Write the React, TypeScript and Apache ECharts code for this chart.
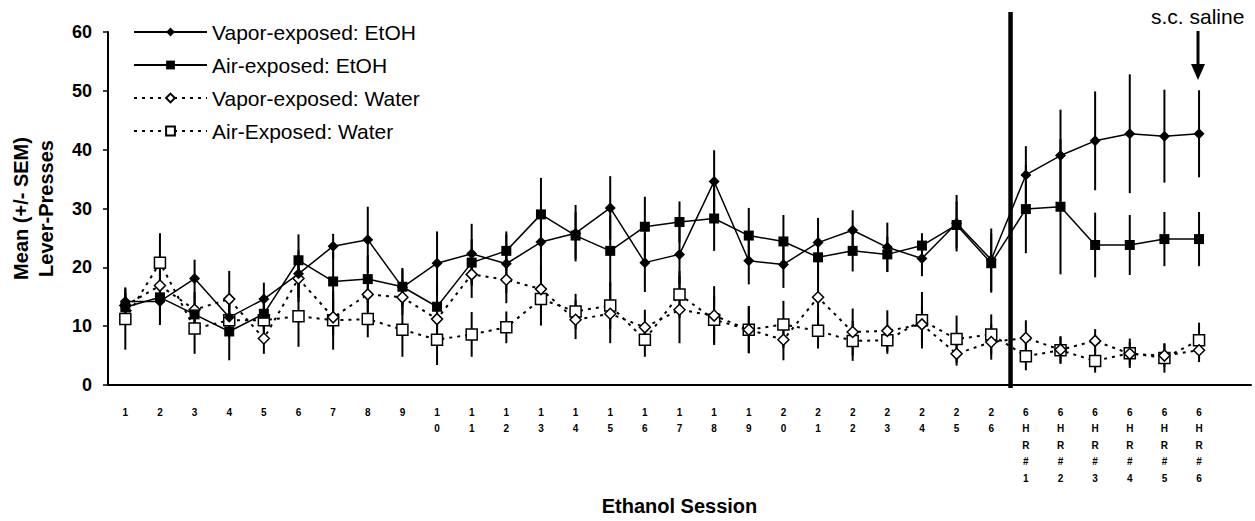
import React, { useEffect, useRef } from "react";
import * as echarts from "echarts";

const xLabels: string[] = [
  "1", "2", "3", "4", "5", "6", "7", "8", "9",
  "1\n0", "1\n1", "1\n2", "1\n3", "1\n4", "1\n5", "1\n6", "1\n7", "1\n8", "1\n9",
  "2\n0", "2\n1", "2\n2", "2\n3", "2\n4", "2\n5", "2\n6",
  "6\nH\nR\n#\n1", "6\nH\nR\n#\n2", "6\nH\nR\n#\n3", "6\nH\nR\n#\n4", "6\nH\nR\n#\n5", "6\nH\nR\n#\n6",
  "",
];

const seriesNames = ["Vapor-exposed: EtOH", "Air-exposed: EtOH", "Vapor-exposed: Water", "Air-Exposed: Water"];

const vaporEtoh = [14.2, 14.2, 18.1, 11.5, 14.6, 18.9, 23.6, 24.7, 16.6, 20.7, 22.3, 20.6, 24.3, 25.8, 30.1, 20.8, 22.2, 34.6, 21.1, 20.5, 24.2, 26.3, 23.4, 21.5, 27.5, 21.3, 35.7, 39.0, 41.5, 42.7, 42.3, 42.7];
const airEtoh = [13.2, 14.9, 12.0, 9.1, 12.1, 21.2, 17.6, 18.0, 16.7, 13.3, 20.8, 22.8, 29.0, 25.4, 22.8, 26.9, 27.7, 28.3, 25.4, 24.4, 21.7, 22.8, 22.2, 23.7, 27.2, 20.7, 29.9, 30.3, 23.8, 23.8, 24.8, 24.8];
const vaporWater = [13.5, 16.9, 12.8, 14.6, 7.9, 18.1, 11.5, 15.4, 14.9, 11.2, 18.8, 17.9, 16.3, 11.1, 12.1, 9.8, 12.8, 11.8, 9.4, 7.7, 14.9, 9.0, 9.2, 10.3, 5.3, 7.3, 8.0, 6.0, 7.5, 5.3, 5.0, 5.9];
const airWater = [11.2, 20.8, 9.6, 11.0, 11.0, 11.7, 11.0, 11.2, 9.4, 7.7, 8.6, 9.8, 14.6, 12.5, 13.5, 7.7, 15.4, 11.1, 9.4, 10.3, 9.2, 7.5, 7.6, 11.0, 7.8, 8.6, 4.9, 5.9, 4.1, 5.4, 4.6, 7.6];

const vaporEtohSem = [2.4, 4, 3.2, 3, 2.8, 4, 2.1, 5.6, 3.3, 5.4, 5.1, 5, 5, 4.8, 5.4, 5, 5, 5.3, 4, 4, 4.2, 3.4, 4.2, 3, 4.8, 5.3, 4.9, 7.8, 8.4, 10.1, 7.9, 7.4];
const airEtohSem = [2.5, 4.5, 3, 4.9, 3, 4.4, 5, 4, 3, 4, 4, 3.3, 6.2, 4, 6, 5.1, 3.5, 5.5, 4.7, 4.5, 4, 3.5, 3, 2.1, 4, 5, 7.5, 11.5, 5.5, 5.1, 4.6, 4.6];
const vaporWaterSem = [2, 3, 3, 4.8, 2.6, 4, 3, 3, 3, 3, 4, 4, 4, 3.3, 5, 3, 5.7, 5, 4, 3.5, 5, 4, 3.5, 3, 2, 3, 3, 2.3, 2, 2, 2, 2];
const airWaterSem = [5.2, 5, 4.3, 3, 3, 5.2, 5, 3.1, 4.6, 4.3, 3.8, 2.7, 4.5, 3, 4, 2.9, 4, 4, 4, 4, 3, 3.4, 2.3, 4.8, 4, 3.4, 2.4, 2.3, 2, 2.5, 2.5, 3];

const yTicks = { min: 0, max: 60, interval: 10 };
const dividerAfterIndex = 25; // between session 26 and 6HR#1

const FONT = "'Liberation Sans', Arial, sans-serif";

function errData(mean: number[], sem: number[]) {
  return mean.map((m, i) => [i, m - sem[i], m + sem[i]]);
}

const errRender = (_params: any, api: any) => {
  const p1 = api.coord([api.value(0), api.value(1)]);
  const p2 = api.coord([api.value(0), api.value(2)]);
  return {
    type: "line",
    shape: { x1: p1[0], y1: p1[1], x2: p2[0], y2: p2[1] },
    style: { stroke: "#000", lineWidth: 2 },
  };
};

export default function App() {
  const ref = useRef<HTMLDivElement>(null);
  useEffect(() => {
    if (!ref.current) return;
    const chart = echarts.init(ref.current, undefined, { renderer: "svg" });
    const lineBase = (name: string, data: number[], symbol: string, size: number, filled: boolean, dotted: boolean) => ({
      name,
      type: "line",
      data,
      symbol,
      symbolSize: size,
      z: 3,
      lineStyle: { color: "#000", width: dotted ? 2 : 1.5, type: dotted ? [3, 5] : "solid" },
      itemStyle: filled
        ? { color: "#000", borderColor: "#000", borderWidth: 0 }
        : { color: "#fff", borderColor: "#000", borderWidth: 1.5 },
      emphasis: { disabled: true },
    });
    const errSeries = (mean: number[], sem: number[]) => ({
      type: "custom",
      renderItem: errRender,
      data: errData(mean, sem),
      z: 1,
      silent: true,
      encode: { x: 0, y: [1, 2] },
    });
    chart.setOption({
      animation: false,
      grid: { left: 106, right: 4, top: 32, bottom: 132 },
      legend: {
        orient: "vertical",
        left: 133,
        top: 21,
        itemWidth: 73,
        itemHeight: 11,
        itemGap: 11,
        padding: 0,
        data: seriesNames,
        textStyle: { fontFamily: FONT, fontSize: 21, lineHeight: 22, color: "#000" },
      },
      xAxis: {
        type: "category",
        data: xLabels,
        boundaryGap: true,
        name: "Ethanol Session",
        nameLocation: "middle",
        nameGap: 111,
        nameTextStyle: { fontFamily: FONT, fontSize: 20, fontWeight: "bold", color: "#000" },
        axisLine: { lineStyle: { color: "#000", width: 2 } },
        axisTick: { show: false },
        axisLabel: {
          interval: 0,
          margin: 19,
          fontFamily: FONT,
          fontSize: 10,
          fontWeight: "bold",
          lineHeight: 16.5,
          color: "#000",
        },
        splitLine: { show: false },
      },
      yAxis: {
        type: "value",
        min: yTicks.min,
        max: yTicks.max,
        interval: yTicks.interval,
        name: "Mean (+/- SEM)\nLever-Presses",
        nameLocation: "middle",
        nameRotate: 90,
        nameGap: 50,
        nameTextStyle: { fontFamily: FONT, fontSize: 20, fontWeight: "bold", color: "#000", lineHeight: 25, align: "center" },
        axisLine: { show: true, lineStyle: { color: "#000", width: 2 } },
        axisTick: { show: true, length: 5, lineStyle: { color: "#000", width: 1.5 } },
        axisLabel: { margin: 16, fontFamily: FONT, fontSize: 18, fontWeight: "bold", color: "#000" },
        splitLine: { show: false },
      },
      series: [
        errSeries(vaporEtoh, vaporEtohSem),
        errSeries(airEtoh, airEtohSem),
        errSeries(vaporWater, vaporWaterSem),
        errSeries(airWater, airWaterSem),
        lineBase(seriesNames[3], airWater, "rect", 11, false, true),
        lineBase(seriesNames[2], vaporWater, "diamond", 11, false, true),
        lineBase(seriesNames[1], airEtoh, "rect", 10, true, false),
        lineBase(seriesNames[0], vaporEtoh, "diamond", 11, true, false),
        {
          type: "custom",
          silent: true,
          z: 5,
          data: [[dividerAfterIndex, 0]],
          renderItem: (_p: any, api: any) => {
            const a = api.coord([api.value(0), 0]);
            const b = api.coord([api.value(0) + 1, 0]);
            const top = api.coord([api.value(0), yTicks.max]);
            const x = (a[0] + b[0]) / 2 + 2;
            return {
              type: "line",
              shape: { x1: x, y1: top[1] - 20, x2: x, y2: a[1] + 3 },
              style: { stroke: "#000", lineWidth: 4.5 },
            };
          },
          clip: false,
        },
      ],
      graphic: [
        {
          type: "text",
          left: 1151,
          top: 6,
          style: { text: "s.c. saline", fontFamily: FONT, fontSize: 21, fill: "#000" },
        },
        {
          type: "rect",
          shape: { x: 1196.5, y: 31, width: 3, height: 36 },
          style: { fill: "#000" },
        },
        {
          type: "polygon",
          shape: { points: [[1191, 64], [1205, 64], [1198, 80]] },
          style: { fill: "#000" },
        },
      ],
    });
    return () => chart.dispose();
  }, []);
  return <div ref={ref} style={{ position: "fixed", left: 0, top: 0, width: 1255, height: 521, background: "#fff" }} />;
}
